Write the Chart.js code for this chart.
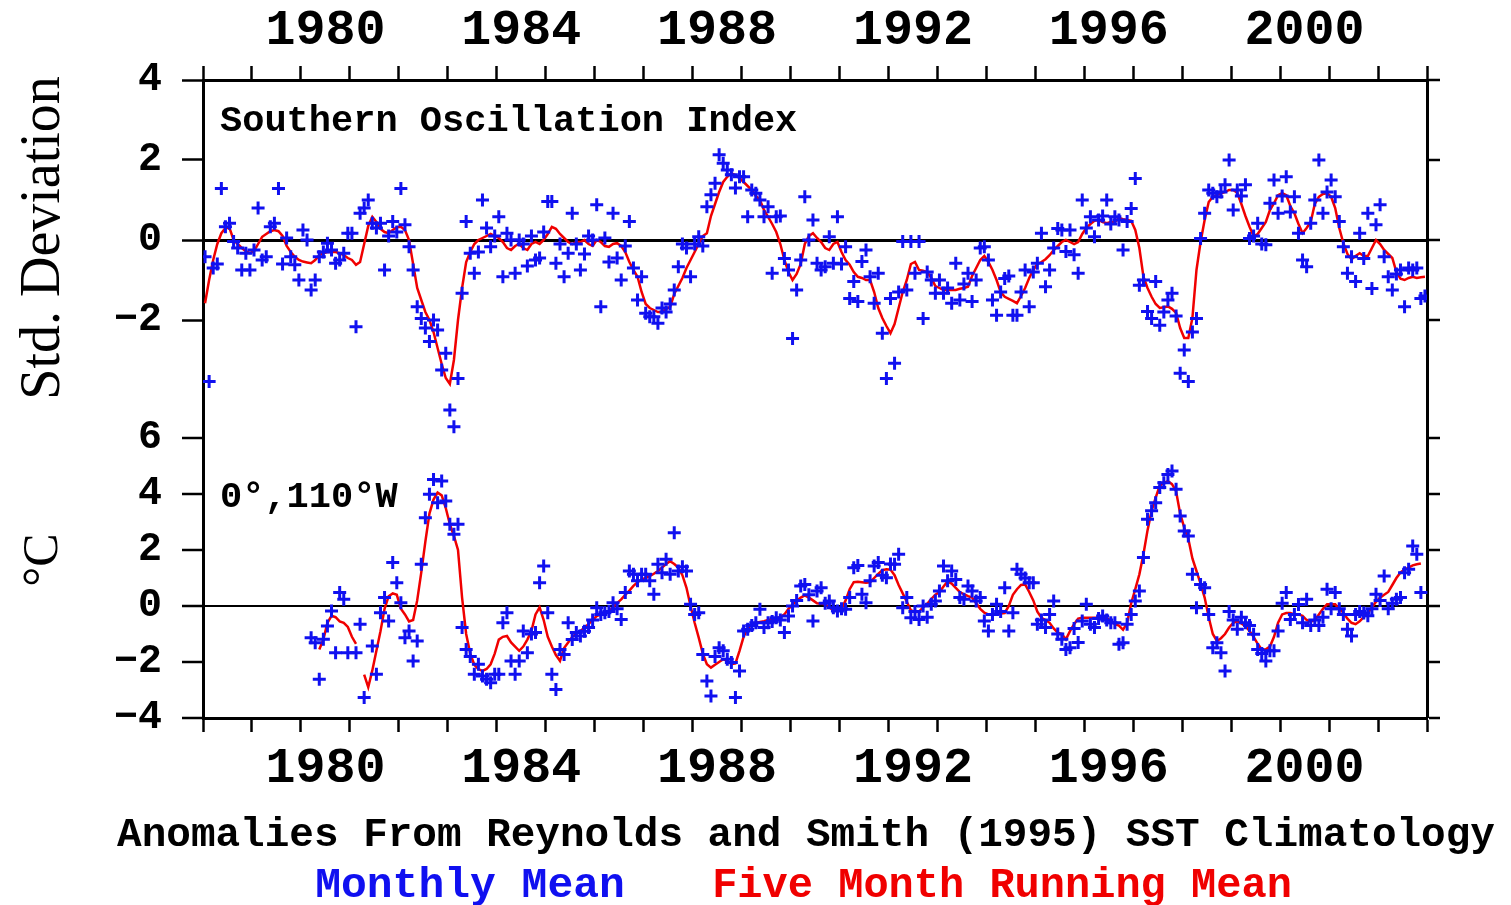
<!DOCTYPE html>
<html>
<head>
<meta charset="utf-8">
<script src="https://cdn.jsdelivr.net/npm/chart.js@4.4.1/dist/chart.umd.min.js"></script>
<style>
  html, body { margin: 0; padding: 0; background: #fff; }
  canvas { display: block; }
</style>
</head>
<body>
<canvas id="grafica" width="1511" height="905"></canvas>
<script>
// first month of each series
const soiStart = 1978;
const sstStart = 1980;

// tick labels
const xLabelYears = [1980, 1984, 1988, 1992, 1996, 2000];
const soiTicks = [-2, 0, 2, 4];
const sstTicks = [-4, -2, 0, 2, 4, 6];

// Southern Oscillation Index, monthly mean (std. deviation), Jan 1978 - Dec 2002
const soiMonthly = [
  -0.42, -3.54, -0.7, -0.6, 1.29, 0.33, 0.42, -0.04, -0.2, -0.75, -0.33, -0.75, // 1978
  -0.25, 0.8, -0.5, -0.42, 0.33, 0.42, 1.29, -0.6, 0.05, -0.42, -0.62, -1.0,     // 1979
  0.25, 0.0, -1.25, -1.0, -0.42, -0.3, -0.08, -0.25, -0.58, -0.5, -0.33, 0.17,  // 1980
  0.17, -2.17, 0.67, 0.8, 1.0, 0.42, 0.3, 0.42, -0.75, 0.1, 0.46, 0.2,          // 1981
  1.29, 0.38, -0.17, -0.75, -1.67, -1.96, -2.2, -2.54, -2.0, -2.25, -3.25, -2.83, // 1982
  -4.25, -4.67, -3.46, -1.33, 0.46, -0.33, -0.83, -0.3, 1.0, 0.3, -0.17, 0.1,   // 1983
  0.58, -0.92, 0.17, 0.0, -0.83, 0.0, -0.1, -0.65, 0.1, -0.5, -0.45, 0.2,       // 1984
  0.96, 0.96, -0.58, -0.1, -0.92, -0.33, 0.67, -0.1, -0.75, -0.35, 0.1, 0.0,    // 1985
  0.88, -1.67, 0.05, -0.55, 0.67, -0.45, -1.0, -0.15, 0.46, -0.7, -1.5, -0.92,  // 1986
  -1.83, -1.92, -1.92, -2.08, -1.7, -1.8, -1.6, -1.25, -0.67, -0.1, -0.2, -0.92, // 1987
  -0.1, 0.08, -0.15, 0.83, 1.13, 1.42, 2.13, 1.92, 1.75, 1.63, 1.3, 1.58,       // 1988
  1.58, 0.58, 1.25, 1.17, 1.0, 0.58, 0.83, -0.83, 0.58, 0.6, -0.46, -0.75,      // 1989
  -2.46, -1.25, -0.5, 1.08, 0.0, 0.5, -0.58, -0.75, -0.67, 0.08, -0.58, 0.58,   // 1990
  -0.6, -0.17, -1.46, -1.04, -1.54, -0.54, -0.25, -0.92, -1.58, -0.83, -2.33, -3.46, // 1991
  -1.46, -3.08, -1.3, -0.04, -1.25, -0.04, -0.83, -0.04, -1.96, -0.8, -1.0, -1.33,  // 1992
  -1.0, -1.33, -1.2, -1.58, -0.58, -1.5, -1.1, -0.83, -1.54, -1.0, -0.2, -0.17,  // 1993
  -0.5, -1.5, -1.88, -1.3, -0.96, -0.9, -1.88, -1.88, -1.3, -0.75, -1.67, -0.8,  // 1994
  -0.58, 0.17, -1.17, -0.75, -0.2, 0.29, 0.25, -0.29, 0.25, -0.37, -0.83, 1.0,   // 1995
  0.3, 0.58, 0.08, 0.5, 0.6, 1.0, 0.4, 0.58, 0.5, -0.25, 0.46, 0.79,            // 1996
  1.54, -1.13, -1.0, -1.79, -1.96, -1.04, -2.13, -1.8, -1.5, -1.33, -1.9, -3.33, // 1997
  -2.75, -3.54, -2.3, -1.96, 0.04, 0.67, 1.25, 1.17, 1.08, 1.2, 1.38, 2.0,      // 1998
  0.75, 1.25, 1.1, 1.38, 0.04, 0.1, 0.42, -0.1, -0.12, 0.92, 1.5, 0.67,         // 1999
  1.1, 1.58, 0.7, 1.08, 0.17, -0.5, -0.67, 0.42, 1.0, 2.0, 0.67, 1.2,           // 2000
  1.5, 1.08, 0.46, -0.17, -0.83, -0.42, -1.04, 0.17, -0.46, 0.67, -1.21, 0.38,  // 2001
  0.88, -0.42, -0.92, -1.25, -0.85, -0.75, -1.67, -0.7, -0.75, -0.7, -1.46, -1.4 // 2002
];

// SOI five month running mean
const soiRunning = [
  -1.58, -1.0, -0.5, -0.1, 0.17, 0.3, 0.3, 0.0, -0.1, -0.2, -0.28, -0.33,       // 1978
  -0.28, -0.1, 0.08, 0.15, 0.22, 0.25, 0.22, 0.1, -0.15, -0.3, -0.42, -0.5,     // 1979
  -0.54, -0.56, -0.58, -0.5, -0.38, -0.33, -0.3, -0.3, -0.3, -0.33, -0.38, -0.45, // 1980
  -0.5, -0.62, -0.55, -0.1, 0.35, 0.58, 0.45, 0.28, 0.2, 0.17, 0.25, 0.32,      // 1981
  0.33, 0.25, 0.0, -0.6, -1.2, -1.5, -1.8, -2.0, -2.3, -2.7, -3.1, -3.45,       // 1982
  -3.6, -3.0, -2.0, -1.2, -0.55, -0.3, -0.1, 0.0, 0.05, 0.1, 0.15, 0.1,         // 1983
  0.05, -0.05, -0.2, -0.25, -0.15, -0.1, -0.2, -0.25, -0.1, -0.05, -0.1, 0.0,   // 1984
  0.15, 0.33, 0.28, 0.15, 0.05, -0.05, -0.1, -0.05, -0.05, 0.0, -0.1, -0.15,    // 1985
  0.0, -0.05, -0.15, -0.17, -0.1, -0.08, -0.15, -0.3, -0.55, -0.75, -0.92, -1.3, // 1986
  -1.6, -1.7, -1.75, -1.8, -1.8, -1.72, -1.67, -1.35, -1.15, -0.95, -0.7, -0.5, // 1987
  -0.3, -0.1, 0.1, 0.17, 0.6, 0.9, 1.2, 1.45, 1.58, 1.67, 1.62, 1.55,           // 1988
  1.45, 1.35, 1.25, 1.1, 1.0, 0.75, 0.58, 0.4, 0.2, -0.1, -0.5, -0.8,           // 1989
  -1.0, -0.85, -0.6, -0.1, 0.1, 0.17, 0.05, -0.05, -0.2, -0.25, -0.1, -0.05,    // 1990
  -0.3, -0.5, -0.62, -0.8, -0.92, -0.95, -1.0, -1.0, -1.3, -1.7, -1.95, -2.15,  // 1991
  -2.33, -2.1, -1.7, -1.3, -1.0, -0.6, -0.55, -0.75, -0.77, -0.8, -0.95, -1.15, // 1992
  -1.2, -1.25, -1.25, -1.25, -1.25, -1.22, -1.2, -1.17, -0.9, -0.7, -0.5, -0.4, // 1993
  -0.55, -0.75, -1.0, -1.3, -1.42, -1.47, -1.52, -1.58, -1.4, -1.2, -0.95, -0.75, // 1994
  -0.6, -0.55, -0.48, -0.38, -0.25, -0.15, -0.05, 0.0, -0.05, -0.1, -0.05, 0.15, // 1995
  0.3, 0.4, 0.48, 0.5, 0.45, 0.42, 0.45, 0.45, 0.55, 0.52, 0.5, 0.48,           // 1996
  0.25, -0.2, -0.92, -1.2, -1.42, -1.6, -1.7, -1.68, -1.66, -1.72, -1.82, -2.2, // 1997
  -2.45, -2.45, -1.95, -0.75, -0.05, 0.5, 0.95, 1.08, 1.12, 1.17, 1.2, 1.25,    // 1998
  1.25, 1.18, 0.9, 0.6, 0.33, 0.1, 0.15, 0.3, 0.45, 0.75, 0.92, 1.12,           // 1999
  1.17, 1.12, 0.85, 0.67, 0.4, 0.17, 0.3, 0.45, 0.9, 1.08, 1.15, 1.17,          // 2000
  1.08, 0.8, 0.3, -0.08, -0.35, -0.48, -0.4, -0.33, -0.4, -0.4, -0.2, 0.0,      // 2001
  -0.1, -0.25, -0.35, -0.45, -0.8, -0.97, -1.0, -0.95, -0.92, -0.95, -0.93, -0.92 // 2002
];

// SST anomaly at 0N 110W, monthly mean (deg C), Jan 1980 - Dec 2002
const sstMonthly = [
  null, null, -1.13, -1.31, -2.62, -1.19, -0.71, -0.18, -1.67, 0.48, 0.24, -1.67, // 1980
  null, -1.67, -0.65, -3.27, -4.35, -1.43, -2.44, -0.24, 0.3, -0.54, 1.55, 0.83,   // 1981
  0.12, -1.13, -0.89, -1.96, -1.25, 1.49, 3.15, 3.99, 4.52, 3.69, 4.46, 3.75,      // 1982
  2.92, 2.56, 2.92, -0.77, -1.55, -1.8, -2.44, -2.08, -2.5, -2.62, -2.74, -2.44,   // 1983
  -2.44, -0.6, -0.24, -1.96, -2.44, -1.96, -0.89, -1.67, -1.0, -0.95, 0.83, 1.43,  // 1984
  -0.24, -2.44, -2.98, -1.55, -1.73, -0.6, -1.2, -0.95, -1.07, -0.9, -0.77, -0.5,  // 1985
  -0.06, -0.3, -0.24, -0.2, 0.12, -0.1, -0.48, 0.48, 1.25, 1.13, 0.9, 1.13,        // 1986
  1.13, 0.9, 0.42, 1.49, 1.19, 1.67, 1.13, 2.62, 1.25, 1.4, 1.25, 0.06,            // 1987
  -0.3, -0.24, -1.73, -2.68, -3.21, -1.8, -1.49, -1.6, -1.9, -2.02, -3.27, -2.32,  // 1988
  -0.89, -0.83, -0.7, -0.6, -0.12, -0.77, -0.6, -0.55, -0.42, -0.5, -0.95, -0.36,  // 1989
  0.0, 0.2, 0.71, 0.77, 0.4, -0.54, 0.54, 0.65, 0.1, 0.18, -0.06, -0.18,           // 1990
  -0.1, -0.12, 0.3, 1.37, 1.45, 0.42, 0.12, 0.9, 1.43, 1.55, 1.1, 1.01,            // 1991
  1.5, 1.49, 1.85, -0.06, 0.3, -0.42, -0.2, -0.48, 0.0, -0.4, 0.06, 0.18,          // 1992
  0.54, 1.43, 0.9, 1.25, 0.95, 0.3, 0.24, 0.71, 0.54, 0.18, 0.3, -0.54,            // 1993
  -0.89, -0.3, 0.06, -0.2, 0.65, -0.89, -0.24, 1.31, 1.13, 1.0, 0.83, 0.83,        // 1994
  -0.65, -0.5, -0.77, -0.3, 0.18, -1.0, -1.19, -1.55, -1.49, -0.8, -1.3, -0.54,    // 1995
  0.06, -0.65, -0.77, -0.45, -0.36, -0.5, -0.6, -0.6, -1.37, -1.31, -0.65, -0.3,   // 1996
  0.18, 0.54, 1.73, 3.1, 3.4, 3.69, 4.23, 4.4, 4.7, 4.82, 4.17, 3.21,              // 1997
  2.68, 2.5, 1.13, -0.06, 0.77, 0.65, -0.3, -1.49, -1.31, -1.67, -2.32, -0.2,      // 1998
  -0.5, -0.83, -0.4, -0.6, -0.7, -1.01, -1.55, -1.7, -1.96, -1.6, -1.6, -0.89,     // 1999
  0.1, 0.48, -0.48, -0.3, 0.05, -0.6, 0.24, -0.7, -0.5, -0.7, -0.4, 0.6,           // 2000
  -0.1, 0.48, -0.1, -0.3, -0.83, -1.07, -0.3, -0.2, -0.25, -0.35, -0.1, 0.42,      // 2001
  0.2, 1.07, -0.1, 0.1, 0.24, 0.3, 1.19, 1.31, 2.14, 1.85, 0.48, null              // 2002
];

// SST five month running mean
const sstRunning = [
  null, null, null, null, -1.55, -1.2, -0.6, -0.35, -0.4, -0.55, -0.6, -0.75,      // 1980
  -1.1, -1.35, null, -2.45, -2.9, -2.3, -1.6, -0.9, -0.1, 0.35, 0.45, 0.4,         // 1981
  -0.1, -0.3, -0.55, -0.5, 0.2, 1.2, 2.3, 3.3, 3.8, 4.05, 3.95, 3.5,               // 1982
  2.92, 2.5, 2.0, 0.3, -1.0, -1.7, -2.1, -2.26, -2.32, -2.25, -2.08, -1.7,         // 1983
  -1.2, -1.1, -1.07, -1.3, -1.45, -1.6, -1.45, -1.2, -0.89, -0.3, -0.05, -0.5,     // 1984
  -1.1, -1.45, -1.75, -1.96, -1.5, -1.3, -1.1, -1.0, -0.9, -0.77, -0.65, -0.5,     // 1985
  -0.36, -0.3, -0.25, -0.18, -0.05, 0.1, 0.24, 0.4, 0.55, 0.72, 0.85, 0.95,        // 1986
  1.0, 1.07, 1.15, 1.25, 1.37, 1.5, 1.6, 1.5, 1.37, 1.1, 0.65, 0.0,                // 1987
  -0.6, -1.13, -1.7, -2.08, -2.2, -2.1, -2.0, -1.9, -1.95, -2.08, -2.05, -1.6,     // 1988
  -1.1, -0.8, -0.65, -0.6, -0.57, -0.54, -0.5, -0.47, -0.44, -0.4, -0.3, -0.1,     // 1989
  0.05, 0.18, 0.3, 0.38, 0.3, 0.2, 0.1, 0.08, 0.06, -0.05, -0.15, -0.17,           // 1990
  -0.1, 0.2, 0.6, 0.85, 0.87, 0.85, 0.83, 0.85, 1.0, 1.15, 1.28, 1.31,             // 1991
  1.3, 1.1, 0.75, 0.45, 0.15, -0.15, -0.22, -0.2, -0.05, 0.08, 0.25, 0.4,          // 1992
  0.5, 0.7, 0.88, 0.8, 0.65, 0.5, 0.42, 0.35, 0.3, 0.1, -0.1, -0.24,               // 1993
  -0.3, -0.3, -0.28, -0.27, -0.25, 0.0, 0.4, 0.6, 0.75, 0.77, 0.5, 0.2,            // 1994
  -0.2, -0.42, -0.5, -0.6, -0.8, -0.95, -1.0, -1.19, -0.9, -0.65, -0.45, -0.42,    // 1995
  -0.42, -0.42, -0.42, -0.42, -0.42, -0.42, -0.55, -0.65, -0.7, -0.85, -0.6, 0.1,  // 1996
  0.6, 1.13, 1.85, 2.7, 3.4, 3.87, 4.3, 4.4, 4.46, 4.35, 4.1, 3.3,                 // 1997
  2.8, 2.4, 1.7, 1.25, 0.8, 0.3, -0.4, -1.0, -1.25, -1.15, -1.0, -0.77,            // 1998
  -0.6, -0.55, -0.62, -0.72, -0.89, -1.1, -1.35, -1.55, -1.55, -1.45, -1.1, -0.6,  // 1999
  -0.3, -0.25, -0.25, -0.3, -0.3, -0.35, -0.5, -0.56, -0.5, -0.3, -0.1, 0.06,      // 2000
  0.06, 0.06, -0.1, -0.24, -0.45, -0.6, -0.65, -0.55, -0.4, -0.25, -0.05, 0.15,    // 2001
  0.3, 0.4, 0.5, 0.75, 1.0, 1.2, 1.3, 1.37, 1.45, 1.49, 1.52, null                 // 2002
];

const AZUL = '#1010f0';
const ROJO = '#f00000';
const MONO = '"Liberation Mono", "Courier New", monospace';
const SERIF = '"Liberation Serif", "Times New Roman", serif';

// monthly values -> points at mid-month
function puntos(valores, inicio) {
  return valores.map((v, i) => ({ x: inicio + (i + 0.5) / 12, y: v }));
}

function soloTicks(lista) {
  return function (scale) {
    scale.ticks = lista.map(v => ({ value: v }));
  };
}

function etiquetaMenos(v) {
  return v < 0 ? '\u2212' + Math.abs(v) : String(v);
}

function ejeX(pos) {
  return {
    type: 'linear',
    position: pos,
    min: 1978,
    max: 2003,
    afterFit: s => { s.height = pos === 'top' ? 80 : 187; },
    border: { display: true, color: '#000', width: 3 },
    grid: {
      drawOnChartArea: false,
      tickLength: 14,
      tickWidth: 2.5,
      tickColor: c => (c.tick && Number.isInteger(c.tick.value)) ? '#000' : 'rgba(0,0,0,0)'
    },
    ticks: {
      stepSize: 0.5,
      autoSkip: false,
      maxRotation: 0,
      padding: pos === 'top' ? 5 : 7,
      color: '#000',
      font: { family: MONO, size: 50, weight: 'bold' },
      callback: v => {
        const y = v - 0.5;
        return xLabelYears.some(a => Math.abs(a - y) < 1e-6) ? String(Math.round(y)) : '';
      }
    }
  };
}

function ejeY(pos, stack, peso, min, max, lista, ancho, ceroAncho) {
  const izq = pos === 'left';
  return {
    type: 'linear',
    position: pos,
    stack: stack,
    stackWeight: peso,
    min: min,
    max: max,
    afterBuildTicks: soloTicks(lista),
    afterFit: s => { s.width = ancho; },
    border: { display: true, color: '#000', width: 3 },
    grid: {
      drawOnChartArea: izq,
      color: c => (c.tick && c.tick.value === 0) ? '#000' : 'rgba(0,0,0,0)',
      lineWidth: ceroAncho,
      tickLength: izq ? 21 : 13,
      tickWidth: 2.5,
      tickColor: '#000'
    },
    ticks: {
      display: izq,
      autoSkip: false,
      padding: 20,
      color: '#000',
      font: { family: MONO, size: 40, weight: 'bold' },
      callback: v => etiquetaMenos(v)
    }
  };
}

const textos = {
  id: 'textos',
  afterDraw(chart) {
    const ctx = chart.ctx;
    ctx.save();
    ctx.fillStyle = '#000';
    ctx.textBaseline = 'middle';
    ctx.textAlign = 'left';
    ctx.font = 'bold 37px ' + MONO;
    ctx.fillText('Southern Oscillation Index', 220, 122);
    ctx.fillText('0\u00b0,110\u00b0W', 220, 498);

    ctx.textAlign = 'center';
    ctx.font = 'bold 41px ' + MONO;
    ctx.fillText('Anomalies From Reynolds and Smith (1995) SST Climatology', 806, 836);
    ctx.font = 'bold 43px ' + MONO;
    ctx.fillStyle = AZUL;
    ctx.fillText('Monthly Mean', 470, 886);
    ctx.fillStyle = ROJO;
    ctx.font = 'bold 42px ' + MONO;
    ctx.fillText('Five Month Running Mean', 1002, 886);

    ctx.fillStyle = '#000';
    ctx.font = '56px ' + SERIF;
    ctx.save();
    ctx.translate(44, 238);
    ctx.rotate(-Math.PI / 2);
    ctx.fillText('Std. Deviation', 0, 0);
    ctx.restore();
    ctx.save();
    ctx.font = '50px ' + SERIF;
    ctx.translate(44, 560);
    ctx.rotate(-Math.PI / 2);
    ctx.fillText('\u00b0C', 0, 0);
    ctx.restore();
    ctx.restore();
  }
};

const ctx = document.getElementById('grafica').getContext('2d');
const grafica = new Chart(ctx, {
  type: 'scatter',
  data: {
    datasets: [
      {
        label: 'Monthly Mean SOI',
        data: puntos(soiMonthly, soiStart),
        xAxisID: 'x',
        yAxisID: 'ySOI',
        showLine: false,
        pointStyle: 'cross',
        pointRadius: 6.5,
        pointBorderWidth: 3,
        borderColor: AZUL,
        backgroundColor: AZUL
      },
      {
        label: 'Monthly Mean SST',
        data: puntos(sstMonthly, sstStart),
        xAxisID: 'x',
        yAxisID: 'ySST',
        showLine: false,
        clip: false,
        pointStyle: 'cross',
        pointRadius: 6.5,
        pointBorderWidth: 3,
        borderColor: AZUL,
        backgroundColor: AZUL
      },
      {
        label: 'Five Month Running Mean SOI',
        data: puntos(soiRunning, soiStart),
        xAxisID: 'x',
        yAxisID: 'ySOI',
        showLine: true,
        spanGaps: false,
        pointRadius: 0,
        borderWidth: 2.5,
        borderColor: ROJO,
        tension: 0
      },
      {
        label: 'Five Month Running Mean SST',
        data: puntos(sstRunning, sstStart),
        xAxisID: 'x',
        yAxisID: 'ySST',
        showLine: true,
        spanGaps: false,
        pointRadius: 0,
        borderWidth: 2.5,
        borderColor: ROJO,
        tension: 0
      }
    ]
  },
  options: {
    responsive: false,
    animation: false,
    devicePixelRatio: 1,
    layout: { padding: 0 },
    plugins: {
      legend: { display: false },
      tooltip: { enabled: false }
    },
    scales: {
      x: ejeX('bottom'),
      x2: ejeX('top'),
      // left stack: last defined goes on top
      ySST: ejeY('left', 'izq', 280, -4, 6, sstTicks, 203, 2),
      ySOI: ejeY('left', 'izq', 358, -4.95, 4, soiTicks, 203, 3),
      // right stack: first defined goes on top
      rSOI: ejeY('right', 'der', 358, -4.95, 4, soiTicks, 84, 0),
      rSST: ejeY('right', 'der', 280, -4, 6, sstTicks, 84, 0)
    }
  },
  plugins: [textos]
});
</script>
</body>
</html>
